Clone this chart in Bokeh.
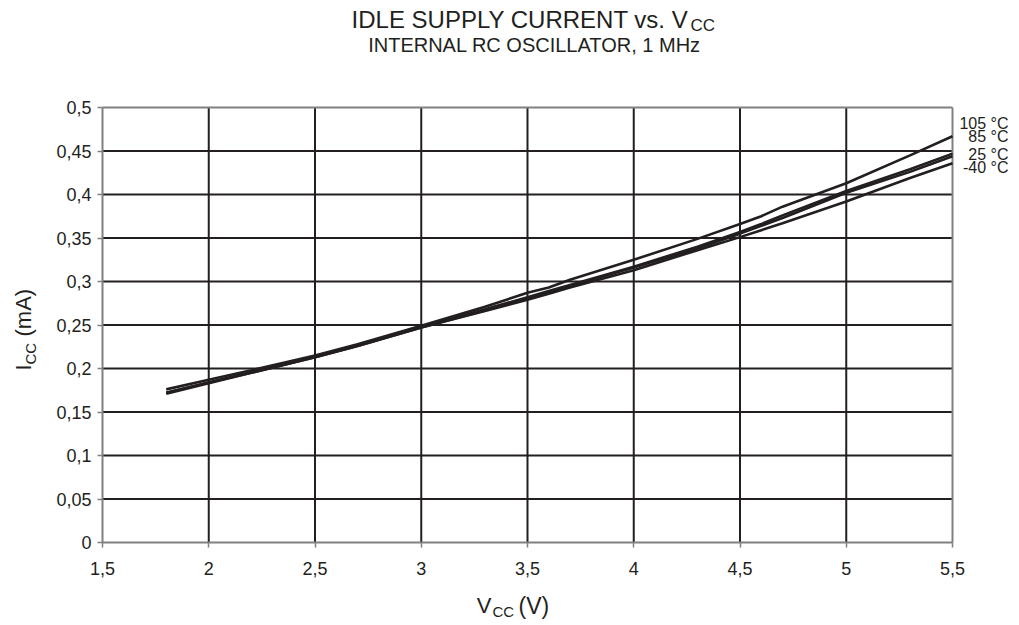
from bokeh.plotting import figure
from bokeh.models import Label, FixedTicker
from bokeh.embed import file_html
from bokeh.resources import INLINE
import math

# ---------------- data ----------------
volts = [1.8, 2.0, 2.2, 2.5, 2.7, 3.0, 3.3, 3.5, 3.6, 3.7, 4.0, 4.3, 4.5, 4.6, 4.7, 5.0, 5.3, 5.5]
i_105 = [0.176, 0.187, 0.198, 0.215, 0.228, 0.249, 0.271, 0.287, 0.293, 0.302, 0.325, 0.349, 0.366, 0.375, 0.386, 0.413, 0.445, 0.467]
i_85 = [0.172, 0.184, 0.196, 0.214, 0.227, 0.248, 0.268, 0.282, 0.289, 0.296, 0.317, 0.340, 0.357, 0.366, 0.376, 0.404, 0.429, 0.447]
i_25 = [0.171, 0.183, 0.195, 0.213, 0.226, 0.247, 0.267, 0.281, 0.288, 0.295, 0.316, 0.338, 0.355, 0.364, 0.373, 0.402, 0.426, 0.444]
i_m40 = [0.172, 0.184, 0.195, 0.213, 0.226, 0.247, 0.266, 0.279, 0.286, 0.293, 0.313, 0.336, 0.351, 0.359, 0.367, 0.392, 0.419, 0.436]
series_labels = ["105 °C", "85 °C", "25 °C", "-40 °C"]

x_ticks = [1.5, 2.0, 2.5, 3.0, 3.5, 4.0, 4.5, 5.0, 5.5]
x_tick_labels = ["1,5", "2", "2,5", "3", "3,5", "4", "4,5", "5", "5,5"]
y_ticks = [0, 0.05, 0.1, 0.15, 0.2, 0.25, 0.3, 0.35, 0.4, 0.45, 0.5]
y_tick_labels = ["0", "0,05", "0,1", "0,15", "0,2", "0,25", "0,3", "0,35", "0,4", "0,45", "0,5"]

FONT = "Liberation Sans"
INK = "#231f20"
GRAY = "#808080"

# canvas geometry (pixels) and where the chart box sits in it
W, H = 1011, 621
PX0, PX1 = 102, 952      # x = 1.5 .. 5.5
PY0, PY1 = 542, 107      # y = 0 .. 0.5
XA, XB = x_ticks[0], x_ticks[-1]
YA, YB = y_ticks[0], y_ticks[-1]
sx = (XB - XA) / (PX1 - PX0)
sy = (YB - YA) / (PY0 - PY1)

x_range = (XA - PX0 * sx, XA + (W - PX0) * sx)
y_range = (YA - (H - PY0) * sy, YA + PY0 * sy)

p = figure(width=W, height=H, x_range=x_range, y_range=y_range,
           output_backend="svg", toolbar_location=None, title=None,
           min_border=0, min_border_left=0, min_border_right=0,
           min_border_top=0, min_border_bottom=0)
p.background_fill_color = "white"
p.border_fill_color = "white"
p.outline_line_color = None
p.xgrid.visible = False
p.ygrid.visible = False

# inner grid lines (dark)
gx = x_ticks[1:-1]
gy = y_ticks[1:-1]
p.segment(x0=gx, y0=[YA] * len(gx), x1=gx, y1=[YB] * len(gx), line_color=INK, line_width=2)
p.segment(x0=[XA] * len(gy), y0=gy, x1=[XB] * len(gy), y1=gy, line_color=INK, line_width=2)
# box outline (gray) top and right
p.segment(x0=[XA, XB], y0=[YB, YA], x1=[XB, XB], y1=[YB, YB], line_color=GRAY, line_width=2)

# axes pinned to the chart box
p.xaxis.fixed_location = YA
p.yaxis.fixed_location = XA
p.xaxis.bounds = (XA, XB)
p.yaxis.bounds = (YA, YB)
p.xaxis.ticker = FixedTicker(ticks=x_ticks)
p.yaxis.ticker = FixedTicker(ticks=y_ticks)
p.xaxis.major_label_overrides = dict(zip(x_ticks, x_tick_labels))
p.yaxis.major_label_overrides = dict(zip(y_ticks, y_tick_labels))
for ax in (p.xaxis, p.yaxis):
    ax.axis_line_color = GRAY
    ax.axis_line_width = 2
    ax.major_tick_line_color = GRAY
    ax.major_tick_line_width = 1.5
    ax.major_tick_out = 5
    ax.major_tick_in = 0
    ax.minor_tick_line_color = None
    ax.major_label_text_font = FONT
    ax.major_label_text_font_size = "18px"
    ax.major_label_text_color = INK
p.xaxis.major_label_standoff = 14
p.yaxis.major_label_standoff = 6

# curves
for ys in (i_m40, i_25, i_85, i_105):
    p.line(volts, ys, line_color=INK, line_width=2.6)

# text placed by picture pixel; (px, py) is the wanted baseline point
SHIFT = 0.39

def dx(px):
    return XA + (px - PX0) * sx

def dy(py):
    return YA + (PY0 - py) * sy

def lab(text, px, py, size, align="left"):
    f = float(size.replace("px", ""))
    p.add_layout(Label(x=dx(px), y=dy(py - SHIFT * f), text=text, text_font=FONT,
                       text_font_size=size, text_color=INK, text_align=align,
                       text_baseline="alphabetic"))

def vlab(text, px, py, size):
    f = float(size.replace("px", ""))
    p.add_layout(Label(x=dx(px - SHIFT * f), y=dy(py), text=text, text_font=FONT,
                       text_font_size=size, text_color=INK, text_align="left",
                       text_baseline="alphabetic", angle=math.pi / 2))

# title
lab("IDLE SUPPLY CURRENT vs. V", 688, 28, "24px", align="right")
lab("CC", 690, 32, "17px")
lab("INTERNAL RC OSCILLATOR, 1 MHz", 534, 52, "20px", align="center")

# y axis label (rotated)
vlab("I", 32, 370, "22px")
vlab("CC", 36, 364, "15px")
vlab("(mA)", 32, 336, "22px")

# x axis label
lab("V", 491, 614, "22px", align="right")
lab("CC", 492, 617, "15px")
lab("(V)", 518, 614, "23px")

# series labels at right
for text, py in zip(series_labels, [129, 142, 160, 173]):
    lab(text, 1008, py, "16px", align="right")

open("out.html", "w").write(file_html(p, INLINE))
